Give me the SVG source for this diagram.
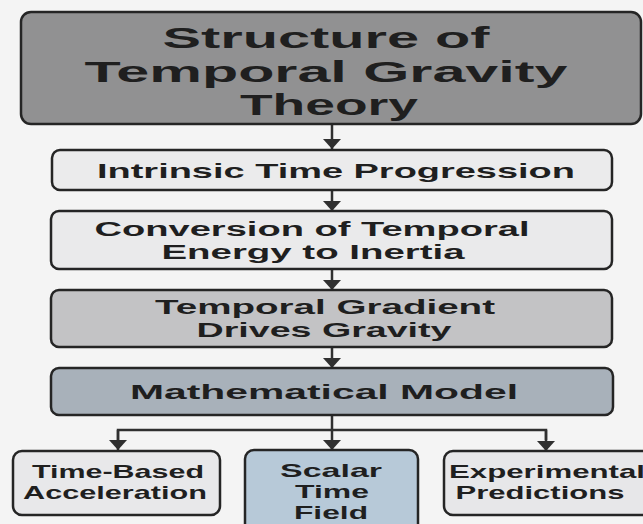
<svg xmlns="http://www.w3.org/2000/svg" width="643" height="524" viewBox="0 0 643 524">
<style>
.box{stroke:#252525;stroke-width:2.5}
.t{font-family:"Liberation Sans",Arial,sans-serif;font-weight:bold;fill:#1f1f1f;text-anchor:middle}
.tt{font-size:29px}
.tm{font-size:20px}
.t1{font-size:21px}
.ts{font-size:18.5px}
.c{stroke:#303030;stroke-width:2.5;fill:none}
</style>
<defs>
<marker id="ah" markerUnits="userSpaceOnUse" markerWidth="20" markerHeight="12" refX="10" refY="11" viewBox="0 0 20 12">
<path d="M1,1 L19,1 L10,11 Z" fill="#303030"/>
</marker>
</defs>
<rect width="643" height="524" fill="#f4f4f4"/>
<g id="connectors">
<line class="c" x1="332" y1="124" x2="332" y2="149" marker-end="url(#ah)"/>
<line class="c" x1="332" y1="190" x2="332" y2="211" marker-end="url(#ah)"/>
<line class="c" x1="332" y1="269" x2="332" y2="290" marker-end="url(#ah)"/>
<line class="c" x1="332" y1="347" x2="332" y2="368" marker-end="url(#ah)"/>
<line class="c" x1="332" y1="415" x2="332" y2="450" marker-end="url(#ah)"/>
<polyline class="c" points="118,440 118,430 546,430 546,440"/>
<line class="c" x1="118" y1="430" x2="118" y2="450" marker-end="url(#ah)"/>
<line class="c" x1="546" y1="430" x2="546" y2="451" marker-end="url(#ah)"/>
</g>
<g id="title">
<rect class="box" x="21" y="12" width="620" height="112" rx="10" fill="#919192"/>
<text class="t tt" x="326" y="48" textLength="327" lengthAdjust="spacingAndGlyphs">Structure of</text>
<text class="t tt" x="326" y="82" textLength="483" lengthAdjust="spacingAndGlyphs">Temporal Gravity</text>
<text class="t tt" x="329" y="115" textLength="178" lengthAdjust="spacingAndGlyphs">Theory</text>
</g>
<g id="intrinsic">
<rect class="box" x="52" y="150" width="560" height="40" rx="8" fill="#ebebec"/>
<text class="t t1" x="336" y="178" textLength="478" lengthAdjust="spacingAndGlyphs">Intrinsic Time Progression</text>
</g>
<g id="conversion">
<rect class="box" x="51" y="211" width="561" height="58" rx="8" fill="#eaeaeb"/>
<text class="t tm" x="312" y="236" textLength="435" lengthAdjust="spacingAndGlyphs">Conversion of Temporal</text>
<text class="t tm" x="313" y="259" textLength="303" lengthAdjust="spacingAndGlyphs">Energy to Inertia</text>
</g>
<g id="gradient">
<rect class="box" x="51" y="290" width="561" height="57" rx="8" fill="#c3c3c5"/>
<text class="t tm" x="325" y="314" textLength="340" lengthAdjust="spacingAndGlyphs">Temporal Gradient</text>
<text class="t tm" x="324" y="337" textLength="255" lengthAdjust="spacingAndGlyphs">Drives Gravity</text>
</g>
<g id="model">
<rect class="box" x="51" y="368" width="562" height="47" rx="8" fill="#a8b1ba"/>
<text class="t t1" x="324" y="399" textLength="388" lengthAdjust="spacingAndGlyphs">Mathematical Model</text>
</g>
<g id="acceleration">
<rect class="box" x="13" y="451" width="207" height="64" rx="9" fill="#e8e8ea"/>
<text class="t ts" x="118" y="478" textLength="172" lengthAdjust="spacingAndGlyphs">Time-Based</text>
<text class="t ts" x="115" y="499" textLength="184" lengthAdjust="spacingAndGlyphs">Acceleration</text>
</g>
<g id="scalar">
<rect class="box" x="245" y="450" width="173" height="90" rx="9" fill="#b7c9d8"/>
<text class="t ts" x="331" y="477" textLength="102" lengthAdjust="spacingAndGlyphs">Scalar</text>
<text class="t ts" x="332" y="498" textLength="74" lengthAdjust="spacingAndGlyphs">Time</text>
<text class="t ts" x="331" y="519" textLength="74" lengthAdjust="spacingAndGlyphs">Field</text>
</g>
<g id="experimental">
<rect class="box" x="444" y="451" width="210" height="64" rx="9" fill="#e7e7e9"/>
<text class="t ts" x="547" y="478" textLength="196" lengthAdjust="spacingAndGlyphs">Experimental</text>
<text class="t ts" x="540" y="499" textLength="169" lengthAdjust="spacingAndGlyphs">Predictions</text>
</g>
</svg>
